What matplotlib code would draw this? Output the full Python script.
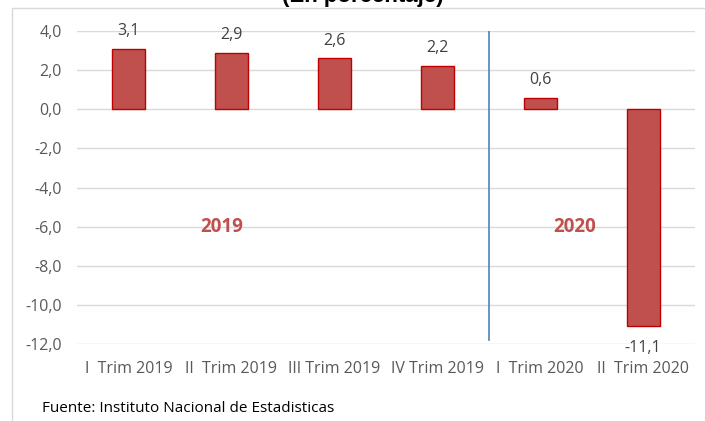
import matplotlib
matplotlib.use('Agg')
from matplotlib import pyplot as plt
from matplotlib.patches import Rectangle

# Chart data
quarters = ['I  Trim 2019', 'II  Trim 2019', 'III Trim 2019', 'IV Trim 2019',
            'I  Trim 2020', 'II  Trim 2020']
growth = [3.1, 2.9, 2.6, 2.2, 0.6, -11.1]
year_labels = ['2019', '2020']
year_pos = [0.91, 4.34]
y_ticks = [4, 2, 0, -2, -4, -6, -8, -10, -12]

plt.rcParams['font.family'] = ['Open Sans', 'DejaVu Sans']

fig = plt.figure(figsize=(7.05, 4.21), dpi=100)
ax = fig.add_axes([77 / 705, 1 - 344 / 421, (694.5 - 77) / 705, (344 - 31) / 421])

# outer chart frame
fig.patches.append(Rectangle((12 / 705, -0.01), 0.99, 1 - 8 / 421 + 0.01,
                             transform=fig.transFigure, fill=False,
                             edgecolor='#D9D9D9', linewidth=1))

x = list(range(len(quarters)))
ax.bar(x, growth, width=0.32, color='#C0504D', edgecolor='#C00000',
       linewidth=1, zorder=3)

for xi, v in zip(x, growth):
    if v >= 0:
        ax.text(xi, v + 0.5, f'{v:.1f}'.replace('.', ','), ha='center',
                va='bottom', fontsize=11.5, color='#404040')
    else:
        ax.text(xi, v - 0.72, f'{v:.1f}'.replace('.', ','), ha='center',
                va='top', fontsize=11.5, color='#404040', clip_on=False)

for lbl, px in zip(year_labels, year_pos):
    ax.text(px, -6.0, lbl, ha='center', va='center', fontsize=13.5,
            fontweight='bold', color='#C0504D')

ax.plot([3.5, 3.5], [4.15, -11.8], color='#4F81BD', linewidth=1.2, zorder=4)

ax.set_xlim(-0.5, 5.5)
ax.set_ylim(-12, 4)
ax.set_yticks(y_ticks)
ax.set_yticklabels([f'{t:.1f}'.replace('.', ',') for t in y_ticks])
ax.set_xticks(x)
ax.set_xticklabels(quarters)
ax.grid(axis='y', color='#D9D9D9', linewidth=1, zorder=0)
ax.tick_params(length=0, labelsize=11.5, colors='#595959')
ax.tick_params(axis='y', pad=11)
ax.tick_params(axis='x', pad=12.5)
for s in ax.spines.values():
    s.set_visible(False)

fig.text(0.515, 1 - 7 / 421, '(En porcentaje)', ha='center', va='bottom',
         fontsize=16, fontweight='bold', family='Liberation Sans')
fig.text(42 / 705, 1 - 408 / 421, 'Fuente: Instituto Nacional de Estadisticas',
         ha='left', va='center', fontsize=11, color='black')

fig.savefig('out.png', dpi=100)
